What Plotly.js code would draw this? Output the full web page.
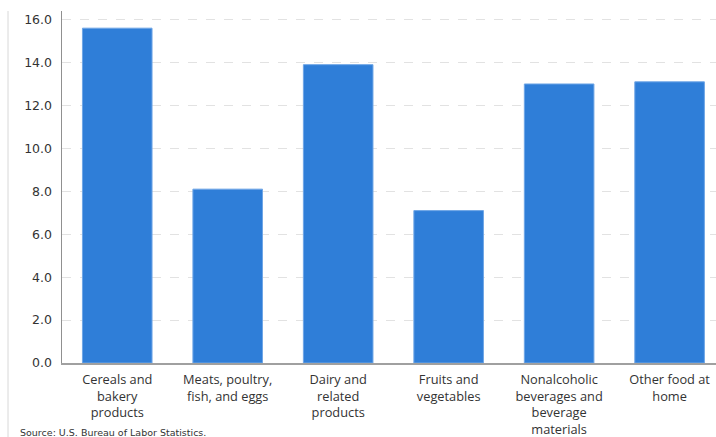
<!DOCTYPE html>
<html><head><meta charset="utf-8">
<script src="https://cdn.plot.ly/plotly-3.0.1.min.js"></script>
<style>html,body{margin:0;padding:0;background:#fff;}#chart{width:716px;height:437px;}</style>
</head><body><div id="chart"></div>
<script>
var categories = ["Cereals and bakery products","Meats, poultry, fish, and eggs","Dairy and related products","Fruits and vegetables","Nonalcoholic beverages and beverage materials","Other food at home"];
var tickLabels = ["Cereals and<br>bakery<br>products","Meats, poultry,<br>fish, and eggs","Dairy and<br>related<br>products","Fruits and<br>vegetables","Nonalcoholic<br>beverages and<br>beverage<br>materials","Other food at<br>home"];
var values = [15.6, 8.1, 13.9, 7.1, 13.0, 13.1];
var yTicks = [0,2,4,6,8,10,12,14,16];
var sourceText = "Source: U.S. Bureau of Labor Statistics.";

var trace = {type:"bar", x:categories, y:values,
  marker:{color:"#2F7ED8", line:{color:"#6FA6E6", width:1}}, hoverinfo:"none"};
var layout = {
  width:716, height:437,
  margin:{l:62, r:0, t:11, b:74},
  paper_bgcolor:"#fff", plot_bgcolor:"#fff",
  bargap:0.37, showlegend:false,
  xaxis:{type:"category", range:[-0.5,5.42], tickvals:categories, ticktext:tickLabels,
    showline:true, linecolor:"#a0a0a0", linewidth:1.5, ticks:"", showgrid:false, ticklabelstandoff:4,
    tickfont:{family:"Open Sans", size:12.8, color:"#333"}, automargin:false},
  yaxis:{range:[0,16.4], tickvals:yTicks, ticktext:yTicks.map(function(v){return v.toFixed(1);}),
    showline:true, linecolor:"#909090", linewidth:1.5, ticks:"", ticklabelstandoff:6,
    showgrid:true, gridcolor:"#e2e2e2", griddash:"dash", gridwidth:1, zeroline:false,
    tickfont:{family:"DejaVu Sans", size:12.5, color:"#333"}, automargin:false},
  shapes:[{type:"line", xref:"paper", yref:"paper", x0:-54/654, x1:-54/654, y0:-74/352, y1:1, line:{color:"#d8d8d8", width:1}}],
  annotations:[{xref:"paper", yref:"paper", x:-44/654, y:-70/352, xanchor:"left", yanchor:"middle", showarrow:false,
    text:sourceText, font:{family:"DejaVu Sans", size:9.5, color:"#333"}}]
};
Plotly.newPlot("chart",[trace],layout,{displayModeBar:false, staticPlot:true});
</script></body></html>
